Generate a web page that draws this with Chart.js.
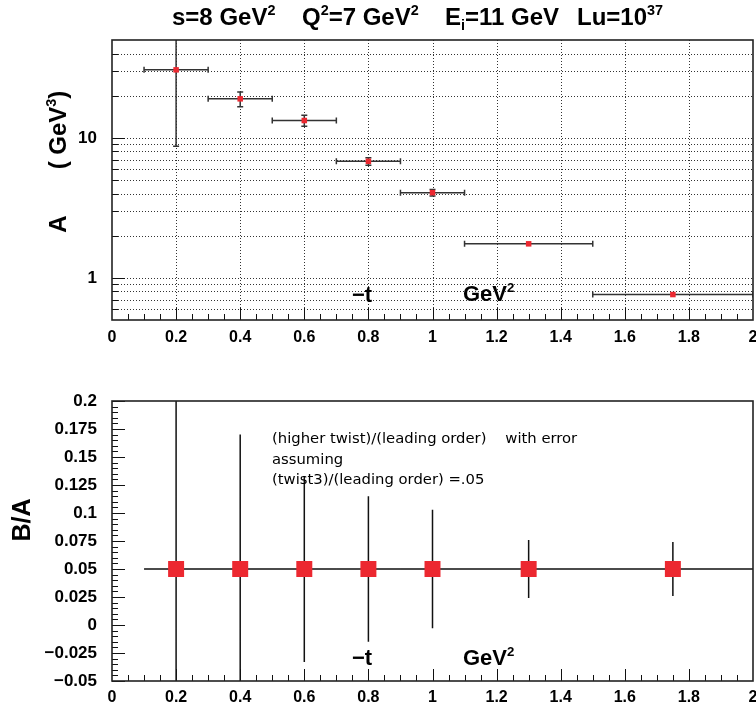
<!DOCTYPE html>
<html>
<head>
<meta charset="utf-8">
<script src="https://cdn.jsdelivr.net/npm/chart.js@4/dist/chart.umd.min.js"></script>
<style>
body { margin: 0; background: #fff; }
#wrap { position: relative; width: 756px; height: 708px; }
canvas { position: absolute; left: 0; }
</style>
</head>
<body>
<div id="wrap">
  <canvas id="topChart" width="756" height="350" style="top:0"></canvas>
  <canvas id="botChart" width="756" height="358" style="top:350px"></canvas>
</div>
<script>
// -t bins (GeV^2)
const tValues = [0.2, 0.4, 0.6, 0.8, 1.0, 1.3, 1.75];
const tLow    = [0.1, 0.3, 0.5, 0.7, 0.9, 1.1, 1.5];
const tHigh   = [0.3, 0.5, 0.7, 0.9, 1.1, 1.5, 2.0];

// A (GeV^3) with errors
const aValues = [30.6, 19.0, 13.3, 6.8, 4.06, 1.75, 0.76];
const aErrors = [21.9, 2.3, 1.2, 0.42, 0.22, 0.04, 0.02];

// B/A with errors
const ratioValues = [0.05, 0.05, 0.05, 0.05, 0.05, 0.05, 0.05];
const ratioErrors = [0.19, 0.12, 0.083, 0.065, 0.053, 0.026, 0.024];

// tick labels
const xTickVals = [0, 0.2, 0.4, 0.6, 0.8, 1, 1.2, 1.4, 1.6, 1.8, 2];
const aTickVals = [1, 10];
const aGridVals = [0.6, 0.7, 0.8, 0.9, 1, 2, 3, 4, 5, 6, 7, 8, 9, 10, 20, 30, 40];
const ratioTickVals = [-0.05, -0.025, 0, 0.025, 0.05, 0.075, 0.1, 0.125, 0.15, 0.175, 0.2];

const FONT = '"Liberation Sans", Arial, sans-serif';
const NOTE_FONT = '"DejaVu Sans", sans-serif';
const RED = '#ec2830';

function px(v) { return Math.round(v) + 0.5; }

// text with superscripts / subscripts: parts = [[text, 'sup'|'sub'|null], ...]
function richWidth(ctx, parts, size, weight, family) {
    let w = 0;
    parts.forEach(([t, kind]) => {
        ctx.font = weight + ' ' + (kind ? size * 0.6 : size) + 'px ' + (family || FONT);
        w += ctx.measureText(t).width;
    });
    return w;
}
function drawRich(ctx, parts, x, y, size, weight, family) {
    let cx = x;
    ctx.textBaseline = 'alphabetic';
    ctx.textAlign = 'left';
    parts.forEach(([t, kind]) => {
        ctx.font = weight + ' ' + (kind ? size * 0.6 : size) + 'px ' + (family || FONT);
        const dy = kind === 'sup' ? -size * 0.4 : kind === 'sub' ? size * 0.2 : 0;
        ctx.fillText(t, cx, y + dy);
        cx += ctx.measureText(t).width;
    });
}
function drawRotated(ctx, parts, cx, cy, size, weight) {
    ctx.save();
    ctx.translate(cx, cy);
    ctx.rotate(-Math.PI / 2);
    const w = richWidth(ctx, parts, size, weight);
    drawRich(ctx, parts, -w / 2, size * 0.36, size, weight);
    ctx.restore();
}

function drawFrame(chart, yMinor, yMajor) {
    const {ctx, chartArea: a, scales} = chart;
    ctx.save();
    ctx.strokeStyle = '#111';
    ctx.lineWidth = 1;
    ctx.beginPath();
    for (let i = 1; i < 40; i++) {
        const x = px(scales.x.getPixelForValue(i * 0.05));
        const len = i % 4 === 0 ? 12 : 6;
        ctx.moveTo(x, a.bottom);
        ctx.lineTo(x, a.bottom - len);
    }
    yMinor.forEach(v => {
        const y = px(scales.y.getPixelForValue(v));
        ctx.moveTo(a.left, y);
        ctx.lineTo(a.left + 6, y);
    });
    yMajor.forEach(v => {
        const y = px(scales.y.getPixelForValue(v));
        ctx.moveTo(a.left, y);
        ctx.lineTo(a.left + 13, y);
    });
    ctx.stroke();
    ctx.lineWidth = 1.6;
    ctx.strokeStyle = '#222';
    ctx.strokeRect(a.left, a.top, a.right - a.left, a.bottom - a.top);
    ctx.restore();
}

function drawErrors(chart, ys, yerr, cap, color) {
    const {ctx, chartArea: a, scales: {x: sx, y: sy}} = chart;
    ctx.save();
    ctx.beginPath();
    ctx.rect(a.left, a.top, a.right - a.left, a.bottom - a.top);
    ctx.clip();
    ctx.strokeStyle = color;
    ctx.lineWidth = 1.5;
    ctx.beginPath();
    tValues.forEach((tv, i) => {
        const x = sx.getPixelForValue(tv);
        const y = sy.getPixelForValue(ys[i]);
        const x0 = sx.getPixelForValue(tLow[i]);
        const x1 = sx.getPixelForValue(tHigh[i]);
        const y0 = sy.getPixelForValue(ys[i] - yerr[i]);
        const y1 = sy.getPixelForValue(ys[i] + yerr[i]);
        ctx.moveTo(x0, y); ctx.lineTo(x1, y);
        ctx.moveTo(x, y0); ctx.lineTo(x, y1);
        if (cap) {
            ctx.moveTo(x0, y - cap); ctx.lineTo(x0, y + cap);
            ctx.moveTo(x1, y - cap); ctx.lineTo(x1, y + cap);
            if (Math.abs(y0 - y1) > 4) {
                ctx.moveTo(x - cap, y0); ctx.lineTo(x + cap, y0);
                ctx.moveTo(x - cap, y1); ctx.lineTo(x + cap, y1);
            }
        }
    });
    ctx.stroke();
    ctx.restore();
}

function xScale(padding, height) {
    return {
        type: 'linear', min: 0, max: 2,
        grid: {display: false, drawTicks: false},
        border: {display: false},
        afterBuildTicks: s => { s.ticks = xTickVals.map(v => ({value: v})); },
        ticks: {
            callback: v => String(Math.round(v * 10) / 10),
            font: {family: FONT, size: 16, weight: 'bold'},
            color: '#000', padding: padding, maxRotation: 0, autoSkip: false
        },
        afterFit: s => { s.height = height; s.paddingLeft = 0; s.paddingRight = 0; }
    };
}

// ---------- top panel: A ----------
const topPlugin = {
    id: 'topDecor',
    beforeDatasetsDraw(chart) {
        const {ctx, chartArea: a, scales} = chart;
        ctx.save();
        ctx.strokeStyle = '#333';
        ctx.lineWidth = 1;
        ctx.setLineDash([1, 2]);
        ctx.beginPath();
        aGridVals.forEach(v => {
            const y = px(scales.y.getPixelForValue(v));
            ctx.moveTo(a.left, y); ctx.lineTo(a.right, y);
        });
        xTickVals.slice(1, -1).forEach(v => {
            const x = px(scales.x.getPixelForValue(v));
            ctx.moveTo(x, a.top); ctx.lineTo(x, a.bottom);
        });
        ctx.stroke();
        ctx.restore();
        drawErrors(chart, aValues, aErrors, 3, '#333');
    },
    afterDatasetsDraw(chart) {
        const ctx = chart.ctx;
        drawFrame(chart, aGridVals, aTickVals);
        ctx.save();
        ctx.fillStyle = '#000';
        drawRich(ctx, [['s=8 GeV'], ['2', 'sup']], 172, 25, 24, 'bold');
        drawRich(ctx, [['Q'], ['2', 'sup'], ['=7 GeV'], ['2', 'sup']], 302, 25, 24, 'bold');
        drawRich(ctx, [['E'], ['i', 'sub'], ['=11 GeV']], 445, 25, 24, 'bold');
        drawRich(ctx, [['Lu=10'], ['37', 'sup']], 577, 25, 24, 'bold');
        drawRich(ctx, [['\u2212t']], 352, 302, 22, 'bold');
        drawRich(ctx, [['GeV'], ['2', 'sup']], 463, 301, 22, 'bold');
        drawRotated(ctx, [['A']], 57, 224, 24, 'bold');
        drawRotated(ctx, [['( GeV'], ['3', 'sup'], [')']], 57, 130, 24, 'bold');
        ctx.restore();
    }
};

new Chart(document.getElementById('topChart'), {
    type: 'scatter',
    data: {
        datasets: [{
            data: tValues.map((t, i) => ({x: t, y: aValues[i]})),
            pointStyle: 'rect',
            pointRadius: 3.9,
            backgroundColor: RED,
            borderWidth: 0
        }]
    },
    options: {
        responsive: false,
        animation: false,
        layout: {autoPadding: false, padding: {top: 40, right: 3, left: 0, bottom: 0}},
        plugins: {legend: {display: false}, tooltip: {enabled: false}},
        scales: {
            x: xScale(8, 30),
            y: {
                type: 'logarithmic', min: 0.5, max: 50,
                grid: {display: false, drawTicks: false},
                border: {display: false},
                afterBuildTicks: s => { s.ticks = aTickVals.map(v => ({value: v})); },
                ticks: {
                    callback: v => String(v),
                    font: {family: FONT, size: 17, weight: 'bold'},
                    color: '#000', padding: 15
                },
                afterFit: s => { s.width = 112; s.paddingTop = 0; s.paddingBottom = 0; }
            }
        }
    },
    plugins: [topPlugin]
});

// ---------- bottom panel: B/A ----------
const ratioMinor = [];
for (let i = 0; i <= 50; i++) ratioMinor.push(-0.05 + i * 0.005);

const botPlugin = {
    id: 'botDecor',
    beforeDatasetsDraw(chart) {
        drawErrors(chart, ratioValues, ratioErrors, 0, '#111');
    },
    afterDatasetsDraw(chart) {
        const ctx = chart.ctx;
        drawFrame(chart, ratioMinor, ratioTickVals);
        ctx.save();
        ctx.fillStyle = '#000';
        drawRich(ctx, [['(higher twist)/(leading order)    with error']], 272, 443 - 350, 14.8, 'normal', NOTE_FONT);
        drawRich(ctx, [['assuming']], 272, 463.5 - 350, 14.8, 'normal', NOTE_FONT);
        drawRich(ctx, [['(twist3)/(leading order) =.05']], 272, 484 - 350, 14.8, 'normal', NOTE_FONT);
        drawRich(ctx, [['\u2212t']], 352, 665 - 350, 22, 'bold');
        drawRich(ctx, [['GeV'], ['2', 'sup']], 463, 665 - 350, 22, 'bold');
        drawRotated(ctx, [['B/A']], 21, 520 - 350, 25, 'bold');
        ctx.restore();
    }
};

new Chart(document.getElementById('botChart'), {
    type: 'scatter',
    data: {
        datasets: [{
            data: tValues.map((t, i) => ({x: t, y: ratioValues[i]})),
            pointStyle: 'rect',
            pointRadius: 11.3,
            backgroundColor: RED,
            borderWidth: 0
        }]
    },
    options: {
        responsive: false,
        animation: false,
        layout: {autoPadding: false, padding: {top: 51, right: 3, left: 0, bottom: 0}},
        plugins: {legend: {display: false}, tooltip: {enabled: false}},
        scales: {
            x: xScale(7, 27),
            y: {
                type: 'linear', min: -0.05, max: 0.2,
                grid: {display: false, drawTicks: false},
                border: {display: false},
                afterBuildTicks: s => { s.ticks = ratioTickVals.map(v => ({value: v})); },
                ticks: {
                    callback: v => String(Math.round(v * 1000) / 1000).replace('-', '\u2212'),
                    font: {family: FONT, size: 17, weight: 'bold'},
                    color: '#000', padding: 15
                },
                afterFit: s => { s.width = 112; s.paddingTop = 0; s.paddingBottom = 0; }
            }
        }
    },
    plugins: [botPlugin]
});
</script>
</body>
</html>
